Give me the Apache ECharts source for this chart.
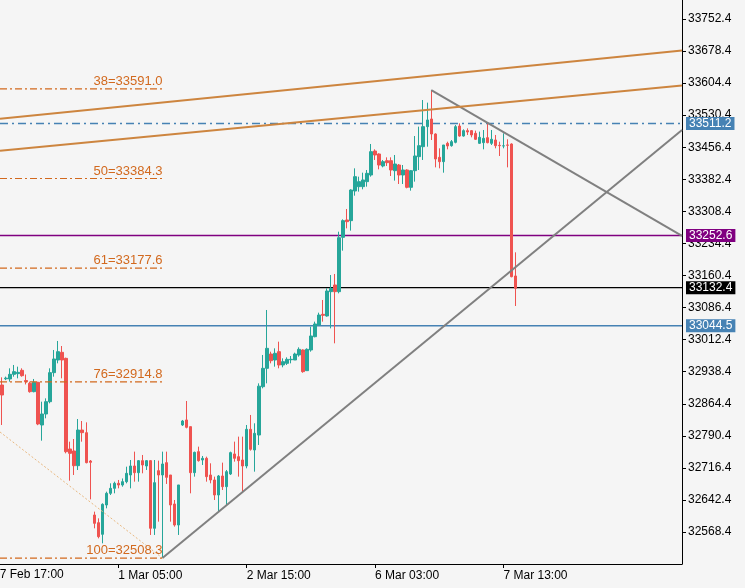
<!DOCTYPE html>
<html>
<head>
<meta charset="utf-8">
<script src="https://cdn.jsdelivr.net/npm/echarts@6/dist/echarts.min.js"></script>
<style>
  html, body { margin: 0; padding: 0; background: #f5f5f5; }
  #chart { width: 745px; height: 588px; }
</style>
</head>
<body>
<div id="chart"></div>
<script>
// hourly candles, [open, close, low, high]
const candles = [
  [32907.7, 32884.6, 32815.4, 32925.4], [32922.0, 32923.5, 32919.0, 32927.0], [32921.6, 32932.3, 32915.4, 32946.2],
  [32932.3, 32938.5, 32926.9, 32953.9], [32933.9, 32936.9, 32923.1, 32950.0], [32941.6, 32929.2, 32926.9, 32946.2],
  [32918.0, 32915.0, 32909.0, 32932.0], [32911.6, 32892.3, 32890.0, 32915.4], [32892.3, 32913.9, 32890.8, 32921.6],
  [32913.9, 32817.7, 32815.0, 32915.0], [32815.4, 32840.8, 32779.2, 32869.2], [32840.8, 32869.2, 32830.8, 32876.9],
  [32869.2, 32936.2, 32865.4, 32946.2], [32936.2, 32967.7, 32926.9, 32988.5], [32965.4, 32984.6, 32957.7, 33009.3],
  [32983.1, 32965.4, 32923.1, 32997.7], [32969.2, 32753.8, 32750.0, 32970.8], [32760.0, 32750.0, 32686.9, 32776.9],
  [32755.4, 32721.5, 32700.0, 32783.1], [32721.5, 32803.8, 32711.5, 32829.2], [32803.8, 32797.7, 32776.9, 32824.6],
  [32797.7, 32728.5, 32726.9, 32821.5], [32732.3, 32729.2, 32643.8, 32734.6], [32607.7, 32588.4, 32576.9, 32615.4],
  [32590.0, 32557.7, 32553.8, 32600.0], [32563.1, 32632.3, 32542.3, 32634.6], [32630.8, 32657.7, 32623.1, 32661.5],
  [32657.7, 32669.2, 32653.8, 32680.8], [32669.2, 32680.8, 32657.7, 32684.6], [32680.8, 32676.9, 32669.2, 32688.5],
  [32676.9, 32684.6, 32673.0, 32692.0], [32684.6, 32703.8, 32680.8, 32719.2], [32700.0, 32720.8, 32669.2, 32734.6],
  [32720.8, 32705.4, 32684.6, 32753.9], [32705.4, 32733.1, 32684.6, 32734.6], [32733.1, 32723.1, 32703.9, 32746.2],
  [32720.8, 32733.1, 32711.6, 32734.6], [32733.1, 32577.0, 32561.6, 32734.6], [32577.0, 32682.3, 32561.6, 32734.6],
  [32710.0, 32700.0, 32592.3, 32733.1], [32700.0, 32725.4, 32508.3, 32753.9], [32728.5, 32694.6, 32679.3, 32753.9],
  [32700.0, 32630.8, 32592.3, 32700.0], [32633.1, 32584.6, 32580.8, 32642.3], [32584.6, 32677.0, 32561.6, 32677.0],
  [32815.4, 32824.6, 32813.1, 32827.0], [32827.0, 32810.0, 32807.7, 32870.8], [32811.6, 32705.4, 32657.7, 32811.6],
  [32705.4, 32752.3, 32696.2, 32753.9], [32753.9, 32733.1, 32730.8, 32765.4], [32734.6, 32738.5, 32723.1, 32743.9],
  [32738.5, 32696.2, 32684.6, 32742.3], [32700.0, 32688.5, 32680.8, 32727.0], [32688.5, 32653.9, 32642.3, 32696.2],
  [32653.9, 32697.7, 32615.4, 32700.0], [32697.7, 32673.1, 32665.4, 32728.5], [32673.1, 32707.7, 32630.8, 32711.6],
  [32702.3, 32751.6, 32700.0, 32753.9], [32748.5, 32738.5, 32730.8, 32777.0], [32742.3, 32733.1, 32696.2, 32788.5],
  [32734.6, 32720.8, 32661.6, 32788.5], [32720.8, 32805.4, 32715.4, 32815.4], [32805.4, 32759.3, 32756.2, 32838.5],
  [32757.7, 32796.2, 32707.7, 32819.3], [32792.3, 32905.0, 32769.3, 32911.5], [32903.8, 32946.2, 32900.0, 32977.0],
  [32946.2, 32992.3, 32911.5, 33080.8], [32979.2, 32963.8, 32957.7, 32984.6], [32965.4, 32980.8, 32950.0, 32992.3],
  [32984.6, 32953.9, 32946.2, 33007.7], [32953.9, 32961.5, 32948.5, 32969.2], [32957.7, 32966.9, 32953.9, 32971.5],
  [32966.0, 32967.0, 32957.7, 32974.6], [32965.4, 32979.2, 32965.4, 32982.3], [32977.0, 32990.0, 32973.1, 32994.6],
  [32988.5, 32938.5, 32936.0, 32990.0], [32940.8, 32990.0, 32940.8, 32992.3], [32988.5, 33020.8, 32984.6, 33042.3],
  [33019.2, 33048.5, 33017.7, 33053.9], [33046.2, 33069.2, 33046.2, 33074.6], [33070.8, 33068.5, 33053.9, 33103.9],
  [33067.0, 33124.6, 33065.4, 33130.8], [33123.1, 33130.8, 33038.5, 33161.5], [33138.5, 33123.1, 33003.9, 33163.9],
  [33123.1, 33247.7, 33119.2, 33261.5], [33248.5, 33287.0, 33217.7, 33290.0], [33288.5, 33284.6, 33269.2, 33313.9],
  [33287.0, 33357.7, 33263.9, 33359.3], [33355.4, 33388.5, 33344.6, 33407.7], [33365.4, 33377.0, 33353.9, 33388.5],
  [33365.4, 33380.8, 33359.3, 33397.7], [33377.0, 33396.2, 33365.4, 33403.9], [33392.3, 33446.2, 33388.5, 33463.9],
  [33447.7, 33438.5, 33427.0, 33451.6], [33440.8, 33415.4, 33405.4, 33442.3], [33413.1, 33423.1, 33410.0, 33427.0],
  [33425.4, 33420.8, 33413.1, 33433.1], [33425.4, 33403.9, 33390.0, 33433.1], [33402.3, 33417.7, 33379.3, 33438.5],
  [33415.4, 33392.3, 33371.6, 33417.7], [33392.3, 33403.9, 33371.6, 33415.4], [33403.9, 33363.9, 33361.6, 33405.4],
  [33363.9, 33402.3, 33356.2, 33403.9], [33402.3, 33436.2, 33377.0, 33482.3], [33434.7, 33460.0, 33403.9, 33503.9],
  [33457.7, 33503.9, 33427.0, 33565.4], [33503.9, 33519.3, 33457.7, 33559.3], [33521.6, 33487.0, 33473.1, 33588.0],
  [33487.0, 33429.3, 33410.0, 33488.5], [33433.1, 33423.1, 33407.7, 33453.9], [33423.1, 33461.6, 33397.7, 33461.6],
  [33465.4, 33459.3, 33451.6, 33469.2], [33460.0, 33469.3, 33457.7, 33473.1], [33467.7, 33503.9, 33465.4, 33507.7],
  [33505.4, 33482.3, 33480.8, 33511.6], [33482.3, 33494.7, 33480.8, 33497.7], [33494.7, 33491.6, 33484.7, 33500.0],
  [33494.7, 33484.7, 33479.3, 33496.2], [33488.5, 33474.7, 33473.1, 33494.7], [33465.4, 33479.3, 33463.9, 33492.4],
  [33467.0, 33477.0, 33451.6, 33496.2], [33478.5, 33467.0, 33465.4, 33511.6], [33465.4, 33474.7, 33461.6, 33496.2],
  [33473.1, 33460.0, 33453.9, 33484.7], [33460.8, 33460.0, 33436.2, 33469.2], [33459.3, 33459.6, 33453.9, 33488.5],
  [33461.6, 33461.0, 33410.0, 33474.7], [33463.9, 33157.7, 33156.2, 33465.4], [33159.3, 33130.8, 33090.0, 33213.9]
];

const slotCount = 170;
const tickIndex = [29, 61, 93, 125];
const tickText = ['1 Mar 05:00', '2 Mar 15:00', '6 Mar 03:00', '7 Mar 13:00'];
const firstTickText = '27 Feb 17:00';

const yMin = 32494.6;
const yMax = 33796.2;
const priceTicks = [32568.4, 32642.4, 32716.4, 32790.4, 32864.4, 32938.4, 33012.4, 33086.4,
  33160.4, 33234.4, 33308.4, 33382.4, 33456.4, 33530.4, 33604.4, 33678.4, 33752.4];

// fibo levels and their labels
const fiboLevels = [33591.0, 33384.3, 33177.6, 32914.8, 32508.3];
const fiboNames = ['38', '50', '61', '76', '100'];
const fiboEnd = 40;
const fiboDiag = [[-0.5, 32799.3], [40, 32508.3]];

// trend lines [[idx, price], [idx, price]]
const trendUp = [[40, 32508.3], [169.5, 33496.2]];
const trendDown = [[107, 33588.0], [169.5, 33251.6]];
const channelTop = [[-0.5, 33522.3], [169.5, 33679.7]];
const channelLow = [[-0.5, 33448.5], [169.5, 33598.9]];

// horizontal price lines
const hPrices = [33511.2, 33252.6, 33132.4, 33044.5];
const hColors = ['#4682b4', '#800080', '#000000', '#4682b4'];
const hDashed = [true, false, false, false];

const categories = [];
for (let i = 0; i < slotCount; i++) {
  const k = tickIndex.indexOf(i);
  categories.push(k >= 0 ? tickText[k] : '');
}
const isTick = (idx) => tickIndex.indexOf(idx) >= 0;

const FONT = 'Liberation Sans';
const chart = echarts.init(document.getElementById('chart'));

const lineSeries = (data, color, width, type) => ({
  type: 'line', xAxisIndex: 1, data: data, symbol: 'none', silent: true,
  lineStyle: { color: color, width: width, type: type }, z: 3
});

const series = [
  {
    type: 'candlestick',
    data: candles,
    barWidth: 3,
    itemStyle: {
      color: '#26a69a', color0: '#ef5350',
      borderColor: '#26a69a', borderColor0: '#ef5350', borderWidth: 1
    },
    z: 2
  },
  lineSeries(trendUp, '#808080', 2, 'solid'),
  lineSeries(trendDown, '#808080', 2, 'solid'),
  lineSeries(channelTop, '#cd853f', 2, 'solid'),
  lineSeries(channelLow, '#cd853f', 2, 'solid'),
  lineSeries(fiboDiag, '#e8b880', 1, [2, 2])
];

hPrices.forEach((p, i) => {
  const s = lineSeries([[-0.5, p], [slotCount - 0.5, p]], hColors[i], 1.4, hDashed[i] ? [8, 4, 2, 4] : 'solid');
  s.z = 1;
  s.endLabel = {
    show: true, distance: 4, formatter: p.toFixed(1), color: '#fff',
    backgroundColor: hColors[i], padding: [1, 3, 0, 3],
    fontFamily: FONT, fontSize: 12
  };
  series.push(s);
});

fiboLevels.forEach((lv, i) => {
  series.push({
    type: 'line', xAxisIndex: 1, symbol: 'circle', symbolSize: 0, showSymbol: true, silent: true, z: 3,
    lineStyle: { color: '#d2691e', width: 1.2, type: [7, 3, 2, 3] },
    itemStyle: { color: '#d2691e' },
    data: [
      { value: [-0.5, lv], label: { show: false } },
      {
        value: [fiboEnd, lv],
        label: {
          show: true, position: 'top', align: 'right', distance: 1,
          formatter: fiboNames[i] + '=' + lv.toFixed(1),
          color: '#d2691e', fontFamily: FONT, fontSize: 13
        }
      }
    ]
  });
});

chart.setOption({
  animation: false,
  backgroundColor: '#f5f5f5',
  grid: { left: 0, top: 0, width: 682, height: 564, containLabel: false },
  xAxis: [
    {
      type: 'category', data: categories, boundaryGap: true,
      axisLine: { show: true, lineStyle: { color: '#000' } },
      axisTick: { show: true, interval: (idx) => isTick(idx), alignWithLabel: true, length: 4, lineStyle: { color: '#000' } },
      axisLabel: { interval: (idx) => isTick(idx), align: 'left', color: '#000', fontFamily: FONT, fontSize: 12, margin: 6 },
      splitLine: { show: false }
    },
    { type: 'value', min: -0.5, max: slotCount - 0.5, show: false }
  ],
  yAxis: {
    type: 'value', position: 'right', min: yMin, max: yMax, scale: true,
    axisLine: { show: true, onZero: false, lineStyle: { color: '#000' } },
    axisTick: { show: true, length: 4, inside: false, customValues: priceTicks, lineStyle: { color: '#000' } },
    axisLabel: {
      customValues: priceTicks, color: '#000', fontFamily: FONT, fontSize: 12, margin: 6,
      formatter: (v) => v.toFixed(1)
    },
    splitLine: { show: false }
  },
  graphic: [
    { type: 'text', left: -7, top: 569, style: { text: firstTickText, fill: '#000', font: '12px ' + FONT } }
  ],
  series: series
});
</script>
</body>
</html>
